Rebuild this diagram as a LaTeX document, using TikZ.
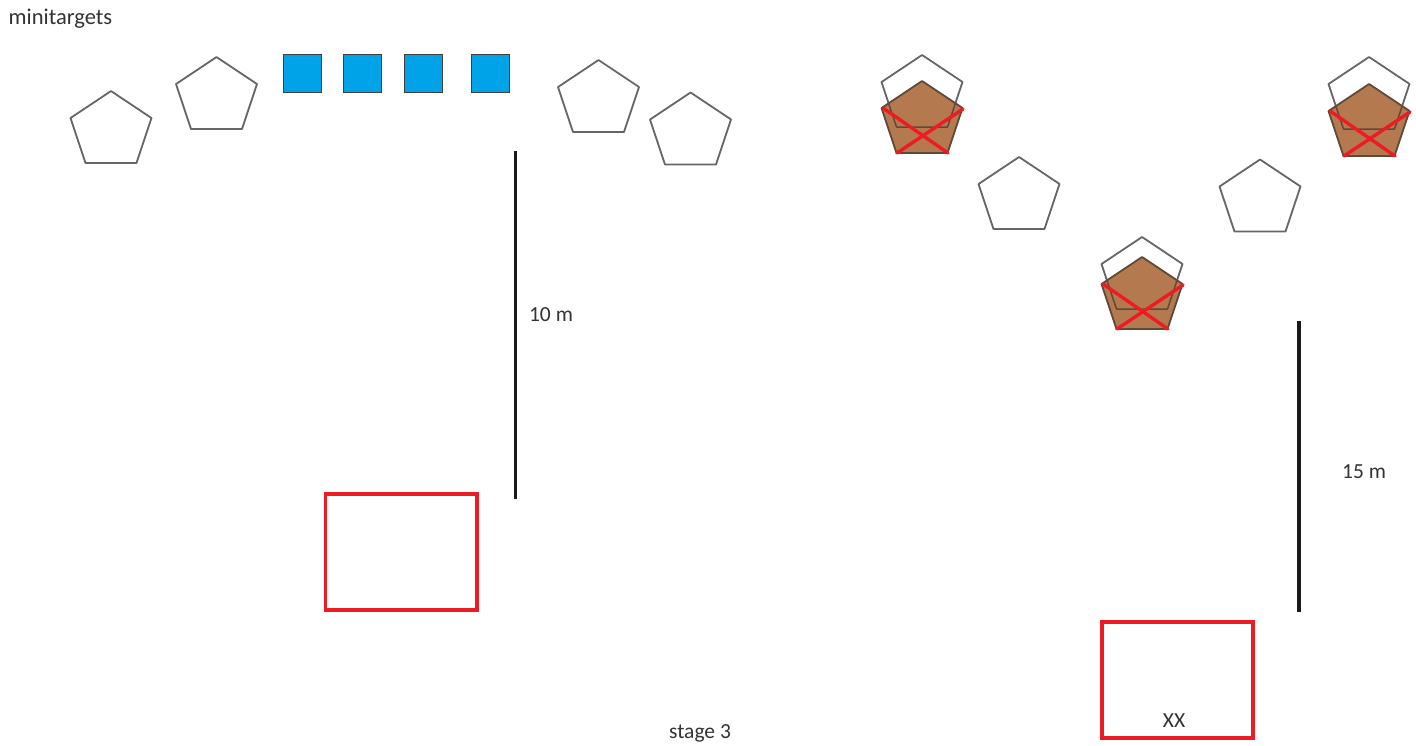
\documentclass[tikz,border=0pt]{standalone}
\usepackage{fontspec}
\setmainfont{Carlito}
\definecolor{brownfill}{HTML}{B5794F}
\definecolor{bluefill}{HTML}{00A2E8}
\definecolor{redline}{HTML}{ED1C24}
\definecolor{darkout}{HTML}{666666}
\definecolor{brownline}{HTML}{5F4A3A}
\tikzset{
  pentline/.style={draw=darkout,line width=1.8pt,line join=round,fill=white},
  pentbrown/.style={draw=brownline,line width=1.8pt,line join=round,fill=brownfill},
  pentghost/.style={draw=brownline,line width=1.5pt,line join=round},
  crossline/.style={draw=redline,line width=3.4pt,line cap=round},
  bluesq/.style={draw=black!75,line width=1.3pt,fill=bluefill},
  redbox/.style={draw=redline,line width=3.4pt},
  measure/.style={draw=black!90,line width=3.4pt},
  lbl/.style={font=\fontsize{21.5}{24}\selectfont,text=black!80,inner sep=0pt,anchor=center}
}
\newcommand{\pentshape}[3]{%
  \path[#3] (#1,#2) -- ++(40.5,27) -- ++(-15,45) -- ++(-51,0) -- ++(-15,-45) -- cycle;}
\newcommand{\hitpent}[3]{%
  \pentshape{#1}{#2}{pentline}
  \pentshape{#1}{#3}{pentbrown}
  \begin{scope}
    \clip (#1,#3) -- ++(40.5,27) -- ++(-15,45) -- ++(-51,0) -- ++(-15,-45) -- cycle;
    \pentshape{#1}{#2}{pentghost}
  \end{scope}
  \draw[crossline] (#1-39,#3+27) -- (#1+26,#3+72);
  \draw[crossline] (#1+41,#3+28) -- (#1-25,#3+72);}
\begin{document}
\begin{tikzpicture}[x=1pt,y=-1pt]
\useasboundingbox[fill=white] (0,0) rectangle (1416,745);
\node[lbl,font=\fontsize{22.5}{24}\selectfont] (title) at (60.5,18.5) {minitargets};
% left group
\pentshape{111}{91}{pentline}
\pentshape{216.5}{57}{pentline}
\pentshape{598.5}{60}{pentline}
\pentshape{690.5}{92.5}{pentline}
\foreach \xa in {283.5,343.5,404.5,471.5}
  \draw[bluesq] (\xa,54.5) rectangle (\xa+38,92.5);
\draw[measure] (515.5,151) -- (515.5,499);
\node[lbl] (ten) at (551,315) {10 m};
\draw[redbox] (325.5,494) rectangle (477,610);
% right group
\hitpent{922}{55}{81}
\hitpent{1369}{57}{84}
\hitpent{1142}{237}{257}
\pentshape{1019}{157}{pentline}
\pentshape{1260}{159.5}{pentline}
\draw[measure] (1299,321) -- (1299,612);
\node[lbl] (fifteen) at (1364,472) {15 m};
\draw[redbox] (1102,622) rectangle (1253,738);
\node[lbl] (xx) at (1174,721) {XX};
\node[lbl] (stage) at (700,733) {stage 3};
\end{tikzpicture}
\end{document}
